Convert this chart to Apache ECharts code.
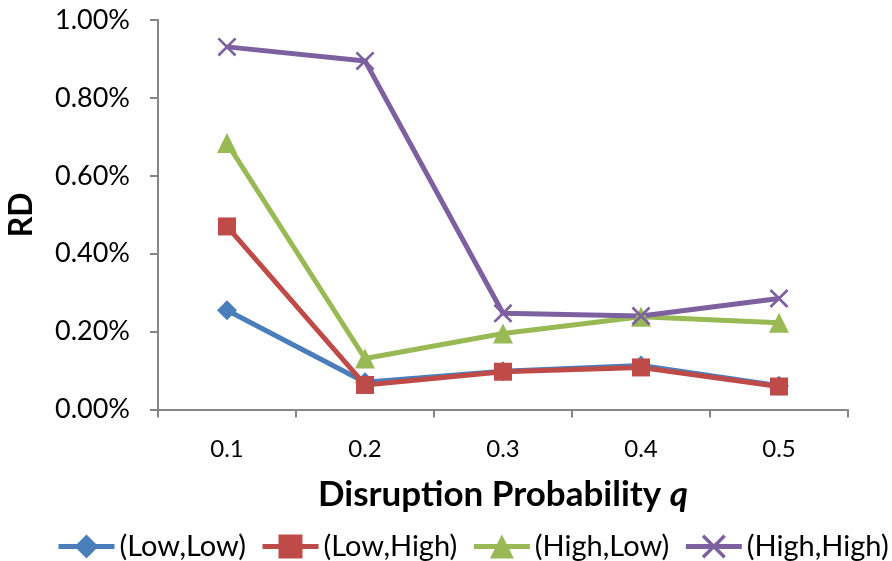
<!DOCTYPE html>
<html><head><meta charset="utf-8">
<script src="https://cdn.jsdelivr.net/npm/echarts@6/dist/echarts.min.js"></script>
<style>html,body{margin:0;padding:0;background:#fff}#c{width:892px;height:561px}</style>
</head><body><div id="c"></div>
<script>
const categories = ['0.1','0.2','0.3','0.4','0.5'];
const lowLow   = [0.255, 0.070, 0.098, 0.113, 0.061];
const lowHigh  = [0.470, 0.063, 0.097, 0.108, 0.059];
const highLow  = [0.684, 0.131, 0.195, 0.238, 0.223];
const highHigh = [0.931, 0.895, 0.247, 0.240, 0.285];
const seriesNames = ['(Low,Low)','(Low,High)','(High,Low)','(High,High)'];
const yTicks = [0, 0.2, 0.4, 0.6, 0.8, 1.0];

const FONT = 'Lato';
const xPath = 'path://M0,1 L1,0 L10,9 L9,10 Z M9,0 L10,1 L1,10 L0,9 Z';
function mk(name, data, color, symbol, size) {
  return {
    name, type: 'line', data, symbol, symbolSize: size,
    lineStyle: { color, width: 5 },
    itemStyle: { color },
    emphasis: { disabled: true },
    animation: false
  };
}
const chart = echarts.init(document.getElementById('c'));
chart.setOption({
  animation: false,
  textStyle: { fontFamily: FONT },
  grid: { left: 158, right: 44, top: 20, bottom: 151.5, containLabel: false, outerBoundsMode: 'none' },
  legend: {
    bottom: 0, left: 56, width: 880, padding: 0,
    itemWidth: 56, itemHeight: 30, itemGap: 14,
    lineStyle: { width: 5 },
    textStyle: { fontFamily: FONT, fontSize: 29, color: '#000' },
    data: seriesNames
  },
  xAxis: {
    type: 'category', data: categories, boundaryGap: true,
    axisLine: { lineStyle: { color: '#868686', width: 2 } },
    axisTick: { show: true, length: 8, lineStyle: { color: '#868686', width: 2 } },
    axisLabel: { fontFamily: FONT, fontSize: 24, color: '#000', margin: 28 },
    name: 'Disruption Probability {q|q}', nameLocation: 'middle', nameGap: 68,
    nameTextStyle: { fontFamily: FONT, fontSize: 35, fontWeight: 'bold', color: '#000',
      rich: { q: { fontFamily: FONT, fontSize: 35, fontWeight: 'bold', fontStyle: 'italic', color: '#000' } } }
  },
  yAxis: {
    type: 'value', min: yTicks[0], max: yTicks[yTicks.length-1], interval: 0.2,
    splitLine: { show: false },
    axisLine: { show: true, lineStyle: { color: '#868686', width: 2 } },
    axisTick: { show: true, length: 8, lineStyle: { color: '#868686', width: 2 } },
    axisLabel: { fontFamily: FONT, fontSize: 27, color: '#000', margin: 28,
      formatter: v => v.toFixed(2) + '%' },
    name: 'RD', nameLocation: 'middle', nameGap: 120, nameRotate: 90,
    nameTextStyle: { fontFamily: FONT, fontSize: 32, fontWeight: 'bold', color: '#000' }
  },
  series: [
    mk(seriesNames[0], lowLow, '#4a7ebb', 'diamond', 20),
    mk(seriesNames[1], lowHigh, '#be4b48', 'rect', 18),
    mk(seriesNames[2], highLow, '#98b954', 'triangle', 20),
    mk(seriesNames[3], highHigh, '#7d60a0', xPath, 19)
  ]
});
</script></body></html>
